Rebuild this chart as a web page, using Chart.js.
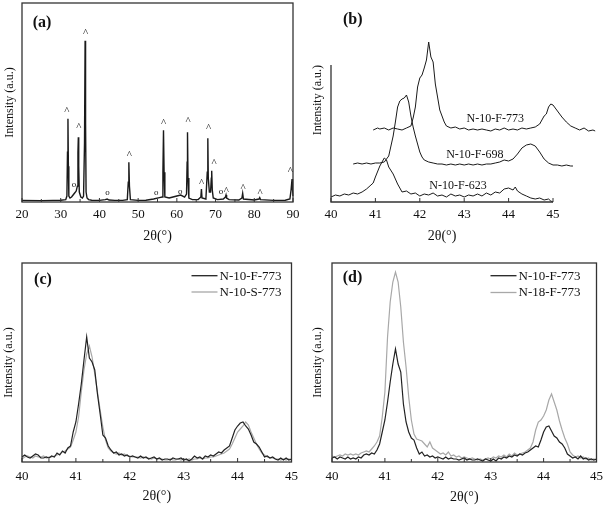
<!DOCTYPE html>
<html><head><meta charset="utf-8">
<script src="https://cdn.jsdelivr.net/npm/chart.js@4.4.0/dist/chart.umd.min.js"></script>
<style>
html,body{margin:0;padding:0;background:#fff;}
#wrap{position:relative;width:610px;height:506px;overflow:hidden;background:#fff;}
canvas{position:absolute;}
</style></head><body>
<div id="wrap">
<canvas id="ca" width="305" height="250" style="left:0;top:0"></canvas>
<canvas id="cb" width="305" height="250" style="left:305px;top:0"></canvas>
<canvas id="cc" width="305" height="256" style="left:0;top:250px"></canvas>
<canvas id="cd" width="305" height="256" style="left:305px;top:250px"></canvas>
</div>
<script>
// ---------- Panel (a): wide-range pattern ----------
const aTheta = [20,25,28,30,31.3,31.6,31.75,31.87,31.98,32.1,32.4,32.8,33.2,33.6,34.0,34.3,34.45,34.55,34.65,34.8,35.2,35.6,35.9,36.15,36.3,36.42,36.55,36.8,37.2,38,40,41.5,42,42.5,44,46,47.2,47.45,47.6,47.75,48.0,50,52,54,55.5,56.2,56.4,56.55,56.7,56.9,58,59,60,61,62,62.5,62.65,62.75,62.88,63.1,64,65.5,66.2,66.35,66.5,67.5,67.85,68.0,68.12,68.4,68.7,68.9,69.0,69.15,69.4,70.5,72,72.55,72.7,72.85,73.5,76,76.8,77.0,77.2,80,81.2,81.4,81.6,85,88,89.2,89.5,89.75,89.9,90];
const aInt   = [0.8,0.7,0.8,0.9,1.2,3,25,41.8,18,3,2,2.5,3.5,4.5,5.5,8,25,32.5,18,5,2.5,2,3,30,81,40,5,2,1.2,0.9,0.8,1.2,1.5,1.0,0.8,0.8,1.2,10,20,8,1.2,0.8,0.9,1.5,2.2,2.5,15,36,15,2.5,2,2.5,3,3.5,2.5,4,20,35,12,2,1.2,1.2,2.5,6.5,2,1.5,15,32,12,5,5,12,15.7,6,2,1.2,1.5,2.5,3.5,2,1.2,1.0,2,4.4,1.5,1.0,1.5,2.2,1.2,0.8,0.9,1.5,6,11.5,6,3];
const aTicks = [20,25,30,35,40,45,50,55,60,65,70,75,80,85,90];
const aTickLabels = [20,30,40,50,60,70,80,90];
const aMarkTheta = [31.6,34.7,36.4,47.7,56.6,62.9,68.2,69.6,66.4,72.8,77.1,81.5,89.3,33.4,42.1,54.7,60.9,71.4];
const aMarkInt   = [46.8,38.9,86.4,24.9,41.2,41.8,38.4,20.7,11.0,6.7,8.4,5.6,17.0,8.6,4.5,4.7,5.1,4.9];
const aMarkSym   = ['^','^','^','^','^','^','^','^','^','^','^','^','^','o','o','o','o','o'];

// ---------- Panel (b): stacked patterns ----------
const b623Theta = [40.0,40.1,40.2,40.3,40.4,40.5,40.6,40.7,40.8,40.9,40.95,41.0,41.1,41.2,41.25,41.3,41.4,41.5,41.6,41.7,41.8,41.9,42.0,42.1,42.2,42.3,42.4,42.5,42.6,42.7,42.8,42.9,43.0,43.1,43.2,43.3,43.4,43.5,43.6,43.7,43.8,43.9,44.0,44.1,44.15,44.2,44.3,44.4,44.5,44.6,44.7,44.8,44.9,44.95,45.0];
const b623Int   = [5,7,6,8,7,9,8,10,13,17,19,25,36,44,42,35,28,18,10,11,8,9,6,8,7,9,6,7,5,8,6,7,5,7,6,8,6,9,7,10,9,13,14,12,15,11,8,6,4,3,4,2,3,1,0];
const b698Theta = [40.5,40.6,40.7,40.8,40.9,41.0,41.1,41.2,41.3,41.4,41.45,41.5,41.55,41.6,41.65,41.7,41.75,41.8,41.85,41.9,41.95,42.0,42.05,42.1,42.2,42.3,42.4,42.5,42.6,42.7,42.8,42.9,43.0,43.1,43.2,43.3,43.4,43.5,43.6,43.7,43.8,43.9,44.0,44.1,44.2,44.3,44.4,44.5,44.55,44.6,44.7,44.8,44.9,45.0,45.1,45.2,45.3,45.4,45.45];
const b698Int   = [38,39,38,39,38,39,39,40,46,66,80,95,101,103,104,107,100,86,75,66,58,50,45,42,40,39,38,38,37,38,37,38,37,38,37,38,37,38,38,39,40,42,41,43,48,54,57,58,57,56,50,43,39,37,37,36,37,36,36];
const b773Theta = [40.95,41.05,41.1,41.2,41.3,41.4,41.5,41.6,41.7,41.8,41.85,41.9,41.95,42.0,42.05,42.1,42.15,42.2,42.25,42.3,42.35,42.4,42.45,42.5,42.55,42.6,42.7,42.8,42.9,43.0,43.1,43.2,43.3,43.4,43.5,43.6,43.7,43.8,43.9,44.0,44.1,44.2,44.3,44.4,44.5,44.6,44.7,44.8,44.85,44.9,44.95,45.0,45.05,45.1,45.2,45.3,45.4,45.5,45.6,45.7,45.8,45.9,45.95];
const b773Int   = [72,74,73,74,72,74,73,72,74,76,84,95,115,124,127,134,142,160,145,140,118,105,92,86,80,76,74,75,73,74,72,73,72,73,72,71,73,72,74,72,73,72,74,73,74,75,78,86,88,95,98,97,94,91,85,80,76,74,72,74,71,72,71];
const bTicks = [40,41,42,43,44,45];
const bTickLabels = [40,41,42,43,44,45];
const bNoteText  = ['N-10-F-773','N-10-F-698','N-10-F-623'];
const bNoteTheta = [43.70,43.24,42.86];
const bNoteInt   = [82.7,46.7,16];

// ---------- Panels (c) and (d): 40–45° detail ----------
const cdTheta = [40.00,40.05,40.10,40.15,40.20,40.25,40.30,40.35,40.40,40.45,40.50,40.55,40.60,40.65,40.70,40.75,40.80,40.85,40.90,40.95,
41.00,41.05,41.10,41.15,41.20,41.25,41.30,41.35,41.40,41.45,41.50,41.55,41.60,41.65,41.70,41.75,41.80,41.85,41.90,41.95,
42.00,42.05,42.10,42.15,42.20,42.25,42.30,42.35,42.40,42.45,42.50,42.55,42.60,42.65,42.70,42.75,42.80,42.85,42.90,42.95,
43.00,43.05,43.10,43.15,43.20,43.25,43.30,43.35,43.40,43.45,43.50,43.55,43.60,43.65,43.70,43.75,43.80,43.85,43.90,43.95,
44.00,44.05,44.10,44.15,44.20,44.25,44.30,44.35,44.40,44.45,44.50,44.55,44.60,44.65,44.70,44.75,44.80,44.85,44.90,44.95,45.00];
const cF773 = [5,7,5,4,6,8,7,4,4,5,4,6,5,9,7,11,9,14,16,30,
40,58,78,102,125,104,100,92,68,48,27,24,16,12,9,10,7,8,6,7,
5,6,5,4,6,4,5,3,4,5,3,4,2,3,3,2,4,3,3,4,
2,3,1,3,6,4,5,3,6,5,7,6,8,10,9,12,14,16,24,32,
36,39,40,36,33,27,20,18,15,10,5,6,4,5,3,2,4,2,4,2,3];
const cS773 = [3,5,6,5,4,6,5,5,6,4,5,5,6,7,8,10,11,13,15,22,
30,45,70,92,108,116,105,88,70,52,35,22,14,11,9,8,9,7,8,6,
6,5,5,5,4,5,4,4,3,4,3,3,3,2,2,3,2,2,3,2,
3,2,3,2,3,3,4,3,4,4,5,5,6,7,8,9,11,13,18,24,
30,33,36,40,37,30,24,18,13,9,7,5,4,4,3,3,2,3,2,3,2];
const dF773 = [4,5,3,5,4,3,5,3,4,3,5,4,7,8,7,9,8,12,18,30,
42,60,80,98,113,98,90,58,40,30,24,22,14,8,10,6,7,5,6,4,
5,4,3,5,3,4,3,3,2,3,4,2,3,2,2,3,2,1,3,2,
1,3,1,4,3,5,4,6,5,7,6,8,7,9,10,12,14,16,15,22,
30,35,36,31,26,24,20,18,14,8,6,4,5,3,6,3,4,2,3,2,3];
const d18F773 = [6,5,6,7,6,8,7,8,7,8,7,9,10,11,10,13,16,20,26,45,
70,125,160,180,190,180,155,120,95,65,42,28,23,22,21,18,15,20,14,12,
10,8,9,7,10,6,7,5,6,4,5,4,3,4,3,2,3,2,3,4,
3,5,4,6,5,7,5,8,6,9,7,8,9,10,12,14,20,32,40,42,
46,52,62,68,60,52,41,32,24,18,10,7,5,6,4,5,3,4,2,3,2];
const cdTicks = [40,40.5,41,41.5,42,42.5,43,43.5,44,44.5,45];
const cdTickLabels = [40,41,42,43,44,45];

// ---------- helpers ----------
const FONT = "'Liberation Serif','Times New Roman',serif";
Chart.defaults.font.family = FONT;
Chart.defaults.color = '#111';
const pts = (xs, ys) => xs.map((x, i) => ({x: x, y: ys[i]}));

const decor = {
  id: 'decor',
  afterDraw(chart, args, o) {
    const {ctx, chartArea: ca, scales: {x, y}} = chart;
    ctx.save();
    ctx.strokeStyle = '#333';
    ctx.lineWidth = 1.3;
    if (o.box) {
      ctx.strokeRect(ca.left, ca.top, ca.right - ca.left, ca.bottom - ca.top);
    } else {
      ctx.beginPath();
      ctx.moveTo(ca.left, ca.top); ctx.lineTo(ca.left, ca.bottom); ctx.lineTo(ca.right, ca.bottom);
      ctx.stroke();
    }
    ctx.lineWidth = 1;
    x.ticks.forEach(t => {
      const px = x.getPixelForValue(t.value);
      const r = t.value / o.major;
      const major = Math.abs(r - Math.round(r)) < 1e-6;
      ctx.beginPath();
      ctx.moveTo(px, ca.bottom);
      ctx.lineTo(px, ca.bottom - (major ? 4 : 3));
      ctx.stroke();
    });
    ctx.fillStyle = '#111';
    ctx.textAlign = 'center';
    ctx.textBaseline = 'middle';
    ctx.font = 'bold 16px ' + FONT;
    ctx.fillText(o.tag, ca.left + o.tagDx, ca.top + o.tagDy);
    if (o.marks) {
      o.marks.t.forEach((s, i) => {
        const px = x.getPixelForValue(o.marks.x[i]);
        const py = y.getPixelForValue(o.marks.y[i]);
        ctx.textBaseline = 'alphabetic';
        if (s === '^') { ctx.font = '11px ' + FONT; ctx.fillText(s, px, py + 5.5); }
        else { ctx.font = '9px ' + FONT; ctx.fillText(s, px, py + 2.2); }
      });
    }
    if (o.notes) {
      ctx.font = '12px ' + FONT;
      ctx.textBaseline = 'middle';
      o.notes.t.forEach((s, i) => {
        ctx.fillText(s, x.getPixelForValue(o.notes.x[i]), y.getPixelForValue(o.notes.y[i]));
      });
    }
    if (o.legend) {
      const L = o.legend;
      ctx.font = '13px ' + FONT;
      ctx.textAlign = 'left';
      ctx.textBaseline = 'middle';
      chart.data.datasets.forEach((ds, i) => {
        const yy = ca.top + L.dy[i];
        ctx.strokeStyle = ds.borderColor;
        ctx.lineWidth = 1.3;
        ctx.beginPath();
        ctx.moveTo(ca.right + L.x0, yy); ctx.lineTo(ca.right + L.x1, yy);
        ctx.stroke();
        ctx.fillStyle = '#111';
        ctx.fillText(ds.label, ca.right + L.xt, yy + 0.5);
      });
    }
    ctx.restore();
  }
};

function opts(o) {
  return {
    responsive: false, animation: false, devicePixelRatio: 1,
    layout: {padding: o.pad},
    plugins: {legend: {display: false}, tooltip: {enabled: false}, decor: o.decor},
    elements: {point: {radius: 0}, line: {tension: 0}},
    scales: {
      x: {
        type: 'linear', bounds: 'data',
        // range fixed in hooks (not as user min/max) so points beyond it are still drawn (panel b)
        afterDataLimits: s => { s.min = o.xmin; s.max = o.xmax; },
        afterBuildTicks: s => { s.min = o.xmin; s.max = o.xmax; s.ticks = o.xticks.map(v => ({value: v})); },
        afterFit: s => { s.height = o.xh; },
        grid: {display: false, drawTicks: false}, border: {display: false},
        ticks: {autoSkip: false, maxRotation: 0, padding: o.tickPad, font: {size: 13}, color: '#111',
                callback: v => (o.xlabels.indexOf(v) >= 0 ? String(v) : '')},
        title: {display: true, text: '2θ(°)', font: {size: 14}, color: '#111', padding: {top: 0, bottom: o.xTitlePad}}
      },
      y: {
        type: 'linear', min: 0, max: o.ymax,
        afterFit: s => { s.width = o.yw; },
        grid: {display: false, drawTicks: false}, border: {display: false},
        ticks: {display: false},
        title: {display: true, text: 'Intensity (a.u.)', align: o.yAlign || 'center', font: {size: 12}, color: '#111',
                padding: {top: o.yTitlePad, bottom: 0}}
      }
    }
  };
}

// (a)
new Chart(document.getElementById('ca'), {
  type: 'line',
  data: {datasets: [{label: 'a', data: pts(aTheta, aInt), borderColor: '#1a1a1a', borderWidth: 1.4}]},
  options: opts({pad: {left: 0, top: 3, right: 12, bottom: 0}, xmin: 20, xmax: 90, xh: 48, yw: 22, ymax: 100,
    xticks: aTicks, xlabels: aTickLabels, tickPad: 5, xTitlePad: 5.6, yTitlePad: 2.3,
    decor: {box: true, major: 10, tag: '(a)', tagDx: 20, tagDy: 20,
            marks: {x: aMarkTheta, y: aMarkInt, t: aMarkSym}}}),
  plugins: [decor]
});

// (b)
new Chart(document.getElementById('cb'), {
  type: 'line',
  data: {datasets: [
    {label: 'N-10-F-773', data: pts(b773Theta, b773Int), borderColor: '#1a1a1a', borderWidth: 1, clip: false},
    {label: 'N-10-F-698', data: pts(b698Theta, b698Int), borderColor: '#1a1a1a', borderWidth: 1, clip: false},
    {label: 'N-10-F-623', data: pts(b623Theta, b623Int), borderColor: '#1a1a1a', borderWidth: 1, clip: false}
  ]},
  options: opts({pad: {left: 0, top: 65, right: 57, bottom: 0}, xmin: 40, xmax: 45, xh: 48, yw: 26, ymax: 137,
    xticks: bTicks, xlabels: bTickLabels, tickPad: 5, xTitlePad: 5.6, yTitlePad: 5.3, yAlign: 'end',
    decor: {box: false, major: 1, tag: '(b)', tagDx: 21.7, tagDy: -45,
            notes: {x: bNoteTheta, y: bNoteInt, t: bNoteText}}}),
  plugins: [decor]
});

// (c)
new Chart(document.getElementById('cc'), {
  type: 'line',
  data: {datasets: [
    {label: 'N-10-F-773', data: pts(cdTheta, cF773), borderColor: '#222222', borderWidth: 1.2},
    {label: 'N-10-S-773', data: pts(cdTheta, cS773), borderColor: '#a8a8a8', borderWidth: 1.2}
  ]},
  options: opts({pad: {left: 0, top: 13, right: 12, bottom: 0}, xmin: 40, xmax: 45, xh: 44, yw: 22, ymax: 199,
    xticks: cdTicks, xlabels: cdTickLabels, tickPad: 7, xTitlePad: 1.6, yTitlePad: 1.6,
    decor: {box: true, major: 1, tag: '(c)', tagDx: 21, tagDy: 16.5,
            legend: {x0: -100, x1: -74, xt: -72, dy: [12.7, 29]}}}),
  plugins: [decor]
});

// (d)
new Chart(document.getElementById('cd'), {
  type: 'line',
  data: {datasets: [
    {label: 'N-10-F-773', data: pts(cdTheta, dF773), borderColor: '#222222', borderWidth: 1.2},
    {label: 'N-18-F-773', data: pts(cdTheta, d18F773), borderColor: '#a8a8a8', borderWidth: 1.2}
  ]},
  options: opts({pad: {left: 0, top: 13, right: 7, bottom: 0}, xmin: 40, xmax: 45, xh: 44, yw: 27, ymax: 199,
    xticks: cdTicks, xlabels: cdTickLabels, tickPad: 7, xTitlePad: 0.6, yTitlePad: 5.3,
    decor: {box: true, major: 1, tag: '(d)', tagDx: 20.5, tagDy: 15,
            legend: {x0: -106, x1: -80, xt: -78, dy: [12.7, 29.5]}}}),
  plugins: [decor]
});
</script>
</body></html>
